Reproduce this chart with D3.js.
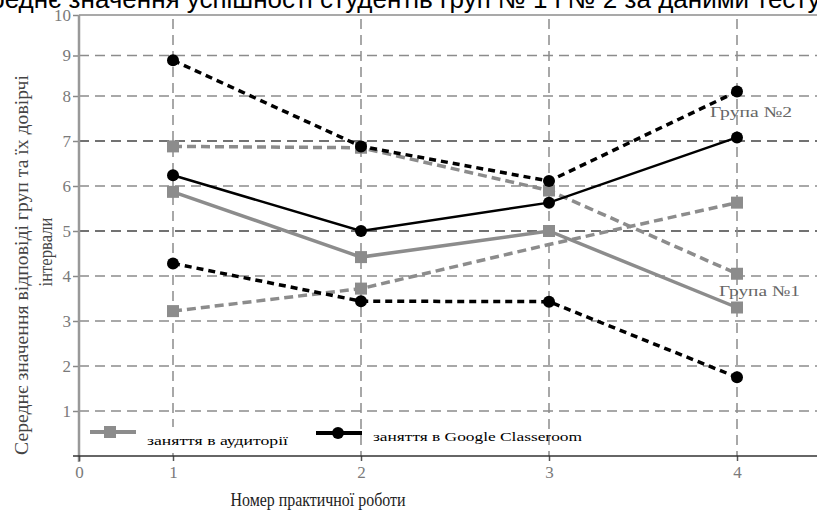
<!DOCTYPE html>
<html><head><meta charset="utf-8">
<script src="https://cdn.jsdelivr.net/npm/d3@7"></script>
<style>body{margin:0;background:#fff;overflow:hidden} svg{display:block}</style>
</head><body><svg id="c" width="817" height="516"></svg>
<script>
const works = [1, 2, 3, 4];
const xTickValues = [0.5, 1, 2, 3, 4];
const xTickLabels = ["0", "1", "2", "3", "4"];
const yTickValues = [1, 2, 3, 4, 5, 6, 7, 8, 9, 10];
const yGridValues = [1, 2, 3, 4, 5, 6, 7, 8, 9];
const yDarkGrid = [5, 7];

// Group 1 — classroom (grey squares)
const g1Mean  = [5.87, 4.42, 5.00, 3.30];
const g1Upper = [6.88, 6.85, 5.90, 4.05];
const g1Lower = [3.22, 3.72, 4.70, 5.63];
// Group 2 — Google Classroom (black circles)
const g2Mean  = [6.24, 5.00, 5.63, 7.08];
const g2Upper = [8.88, 6.88, 6.11, 8.11];
const g2Lower = [4.28, 3.44, 3.43, 1.75];
const g1LowerHiddenMarkers = [2];

const titleText = "Середнє значення успішності студентів груп № 1 і № 2 за даними тестування";
const yTitleLines = ["Середнє значення відповіді груп та їх довірчі", "інтервали"];
const xTitleText = "Номер практичної роботи";
const legendLabels = ["заняття в аудиторії", "заняття в Google Classeroom"];
const groupLabels = ["Група №1", "Група №2"];

const GREY = "#8c8c8c";
const serif = "'Liberation Serif', 'DejaVu Serif', serif";
const svg = d3.select("#c");

const x = d3.scaleLinear().domain([1, 4]).range([173, 737]);
const y = d3.scaleLinear().domain([0, 8, 10]).range([456, 96, 15]);
const RIGHT = 817;
const x0 = x(0.5);

// title (clipped at top and sides)
svg.append("text").attr("x", -43).attr("y", 8)
  .attr("font-family", "'Liberation Sans', Arial, sans-serif").attr("font-size", 26)
  .attr("fill", "#000").text(titleText);

// horizontal grid
svg.append("g").selectAll("line").data(yGridValues).join("line")
  .attr("x1", x0).attr("x2", RIGHT).attr("y1", d => y(d)).attr("y2", d => y(d))
  .attr("stroke", d => yDarkGrid.includes(d) ? "#444" : GREY)
  .attr("stroke-width", 1.5).attr("stroke-dasharray", "10,6");
// top frame line
svg.append("line").attr("x1", x0).attr("x2", RIGHT).attr("y1", y(10)).attr("y2", y(10))
  .attr("stroke", GREY).attr("stroke-width", 1.5);
// vertical grid
svg.append("g").selectAll("line").data(works).join("line")
  .attr("x1", d => x(d)).attr("x2", d => x(d)).attr("y1", y(10) + 4).attr("y2", y(0))
  .attr("stroke", GREY).attr("stroke-width", 1.5).attr("stroke-dasharray", "10,6");

// y axis
const yAxis = svg.append("g").attr("transform", `translate(${x0},0)`)
  .call(d3.axisLeft(y).tickValues(yTickValues).tickFormat(d3.format("d")).tickSize(6).tickPadding(2));
yAxis.select(".domain").remove();
yAxis.selectAll(".tick line").attr("stroke", "#888").attr("stroke-width", 1.5);
yAxis.selectAll(".tick text").attr("font-family", serif).attr("font-size", 17).attr("fill", "#7a7a7a");
svg.append("line").attr("x1", x0).attr("x2", x0).attr("y1", y(10)).attr("y2", y(0) + 6)
  .attr("stroke", "#999").attr("stroke-width", 2.5);

// x axis
const xAxis = svg.append("g").attr("transform", `translate(0,${y(0)})`)
  .call(d3.axisBottom(x).tickValues(xTickValues).tickFormat((d, i) => xTickLabels[i]).tickSize(5).tickPadding(5));
xAxis.select(".domain").remove();
xAxis.selectAll(".tick line").attr("stroke", "#555").attr("stroke-width", 1.5);
xAxis.selectAll(".tick text").attr("font-family", serif).attr("font-size", 17).attr("fill", "#7a7a7a");
svg.append("line").attr("x1", x0 - 6).attr("x2", RIGHT).attr("y1", y(0)).attr("y2", y(0))
  .attr("stroke", "#333").attr("stroke-width", 1.5);

// series
const line = d3.line().x((d, i) => x(works[i])).y(d => y(d));
function drawSeries(vals, color, width, dash) {
  svg.append("path").datum(vals).attr("d", line).attr("fill", "none")
    .attr("stroke", color).attr("stroke-width", width)
    .attr("stroke-dasharray", dash || null);
}
function squares(vals, hidden) {
  svg.append("g").selectAll("rect").data(vals.map((v, i) => [i, v]).filter(d => !(hidden || []).includes(d[0])))
    .join("rect").attr("x", d => x(works[d[0]]) - 6).attr("y", d => y(d[1]) - 6)
    .attr("width", 12).attr("height", 12).attr("fill", GREY);
}
function circles(vals) {
  svg.append("g").selectAll("circle").data(vals).join("circle")
    .attr("cx", (d, i) => x(works[i])).attr("cy", d => y(d)).attr("r", 6).attr("fill", "#000");
}
drawSeries(g1Upper, GREY, 3.5, "9,5");
drawSeries(g1Lower, GREY, 3.5, "9,5");
drawSeries(g1Mean, GREY, 3.5);
squares(g1Upper); squares(g1Lower, g1LowerHiddenMarkers); squares(g1Mean);
drawSeries(g2Upper, "#000", 3.5, "7,5");
drawSeries(g2Lower, "#000", 3.5, "7,5");
drawSeries(g2Mean, "#000", 2.5);
circles(g2Upper); circles(g2Lower); circles(g2Mean);

// group labels
svg.append("text").attr("x", 719).attr("y", 296).attr("font-family", serif).attr("font-size", 15)
  .attr("textLength", 81).attr("lengthAdjust", "spacingAndGlyphs")
  .attr("fill", "#666").text(groupLabels[0]);
svg.append("text").attr("x", 710).attr("y", 117).attr("font-family", serif).attr("font-size", 15)
  .attr("textLength", 82).attr("lengthAdjust", "spacingAndGlyphs")
  .attr("fill", "#666").text(groupLabels[1]);

// legend
svg.append("rect").attr("x", 140).attr("y", 427).attr("width", 160).attr("height", 26).attr("fill", "#fff");
svg.append("line").attr("x1", 90).attr("x2", 136).attr("y1", 432).attr("y2", 432).attr("stroke", GREY).attr("stroke-width", 4);
svg.append("rect").attr("x", 104).attr("y", 426).attr("width", 12).attr("height", 12).attr("fill", GREY);
svg.append("text").attr("x", 147).attr("y", 445).attr("font-family", serif).attr("font-size", 13)
  .attr("textLength", 141).attr("lengthAdjust", "spacingAndGlyphs")
  .attr("fill", "#000").text(legendLabels[0]);
svg.append("line").attr("x1", 316).attr("x2", 362).attr("y1", 433).attr("y2", 433).attr("stroke", "#000").attr("stroke-width", 4);
svg.append("circle").attr("cx", 338).attr("cy", 433).attr("r", 6).attr("fill", "#000");
svg.append("text").attr("x", 373).attr("y", 441).attr("font-family", serif).attr("font-size", 13)
  .attr("textLength", 209).attr("lengthAdjust", "spacingAndGlyphs")
  .attr("fill", "#000").text(legendLabels[1]);

// axis titles
svg.append("text").attr("transform", "translate(28,265) rotate(-90)").attr("text-anchor", "middle")
  .attr("font-family", serif).attr("font-size", 18.5)
  .attr("textLength", 380).attr("lengthAdjust", "spacingAndGlyphs")
  .attr("fill", "#444").text(yTitleLines[0]);
svg.append("text").attr("transform", "translate(52,252) rotate(-90)").attr("text-anchor", "middle")
  .attr("font-family", serif).attr("font-size", 18.5)
  .attr("textLength", 69).attr("lengthAdjust", "spacingAndGlyphs")
  .attr("fill", "#444").text(yTitleLines[1]);
svg.append("text").attr("x", 318).attr("y", 506).attr("text-anchor", "middle")
  .attr("font-family", serif).attr("font-size", 18)
  .attr("textLength", 175).attr("lengthAdjust", "spacingAndGlyphs")
  .attr("fill", "#222").text(xTitleText);
</script></body></html>
